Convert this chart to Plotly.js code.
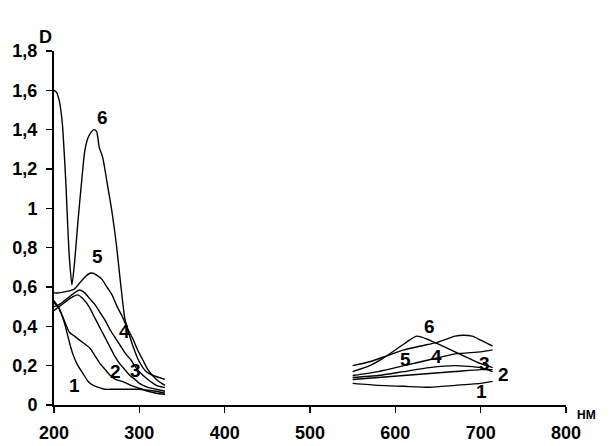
<!DOCTYPE html>
<html>
<head>
<meta charset="utf-8">
<script src="https://cdn.plot.ly/plotly-3.0.1.min.js"></script>
<style>html,body{margin:0;padding:0;background:#fff;}#chart{width:614px;height:446px;}</style>
</head>
<body>
<div id="chart"></div>
<script>
// UV region (nm) and optical density D
const uv1X = [200,206,212,218,222,228,234,240,246,252,260,270,280,290,300,310,320,330];
const uv1Y = [0.52,0.49,0.42,0.32,0.26,0.20,0.16,0.12,0.10,0.09,0.08,0.08,0.08,0.08,0.08,0.075,0.07,0.06];
const uv2X = [200,206,212,218,224,230,236,242,248,254,260,266,272,280,290,300,310,320,330];
const uv2Y = [0.53,0.49,0.43,0.37,0.35,0.33,0.31,0.29,0.25,0.21,0.18,0.15,0.13,0.12,0.10,0.085,0.07,0.06,0.055];
const uv3X = [200,206,212,218,224,228,234,241,247,253,259,265,271,277,283,289,295,300,310,320,330];
const uv3Y = [0.48,0.50,0.52,0.54,0.555,0.56,0.54,0.50,0.45,0.40,0.35,0.30,0.25,0.21,0.18,0.15,0.13,0.11,0.09,0.08,0.07];
const uv4X = [200,206,212,218,224,230,236,242,248,254,260,266,272,278,284,290,296,302,310,320,330];
const uv4Y = [0.50,0.51,0.53,0.55,0.57,0.585,0.57,0.54,0.51,0.47,0.43,0.38,0.34,0.30,0.26,0.23,0.19,0.16,0.13,0.10,0.088];
const uv5X = [200,206,212,218,224,230,236,242,246,250,256,262,268,274,280,286,292,298,304,310,320,330];
const uv5Y = [0.57,0.57,0.575,0.58,0.59,0.62,0.65,0.67,0.67,0.66,0.64,0.60,0.56,0.50,0.45,0.39,0.34,0.28,0.23,0.18,0.13,0.10];
const uv6X = [200,203,206,208,210,212,214,216,218,221,224,228,232,236,240,244,247,250,253,257,263,268,273,278,283,288,295,300,308,316,323,330];
const uv6Y = [1.60,1.59,1.55,1.50,1.42,1.28,1.12,0.92,0.75,0.61,0.72,0.93,1.12,1.29,1.36,1.39,1.40,1.39,1.31,1.26,1.11,0.98,0.82,0.62,0.44,0.36,0.27,0.22,0.17,0.15,0.14,0.13];

// Visible region
const vis1X = [550,580,610,640,670,700,714];
const vis1Y = [0.11,0.10,0.095,0.09,0.10,0.11,0.12];
const vis2X = [550,580,610,640,670,700,714];
const vis2Y = [0.13,0.14,0.15,0.16,0.17,0.18,0.18];
const vis3X = [550,580,610,640,670,700,714];
const vis3Y = [0.14,0.15,0.17,0.19,0.20,0.19,0.17];
const vis4X = [550,580,610,640,670,700,714];
const vis4Y = [0.15,0.17,0.20,0.23,0.26,0.27,0.28];
const vis5X = [550,570,590,610,625,640,660,680,700,714];
const vis5Y = [0.17,0.20,0.25,0.31,0.35,0.33,0.29,0.25,0.21,0.19];
const vis6X = [550,570,590,610,630,650,670,680,690,700,714];
const vis6Y = [0.20,0.22,0.25,0.28,0.30,0.32,0.35,0.355,0.35,0.33,0.30];

// Curve number labels
const labelText = ["1","2","3","4","5","6","1","2","3","4","5","6"];
const labelX = [224,272,296,283,251,257, 701,727,704,648,612,640];
const labelY = [0.10,0.17,0.173,0.373,0.754,1.46, 0.068,0.153,0.21,0.245,0.23,0.40];

const xTicks = [200,300,400,500,600,700,800];
const yTicks = [0,0.2,0.4,0.6,0.8,1,1.2,1.4,1.6,1.8];

const series = [[uv1X,uv1Y],[uv2X,uv2Y],[uv3X,uv3Y],[uv4X,uv4Y],[uv5X,uv5Y],[uv6X,uv6Y],
                [vis1X,vis1Y],[vis2X,vis2Y],[vis3X,vis3Y],[vis4X,vis4Y],[vis5X,vis5Y],[vis6X,vis6Y]];
const traces = series.map(s => ({
  x: s[0], y: s[1], type: 'scatter', mode: 'lines',
  line: {color: '#000', width: 1.4, shape: 'spline', smoothing: 0.6},
  hoverinfo: 'skip', showlegend: false
}));

const fam = 'Liberation Sans, Arial, sans-serif';
const tickFont = {family: fam, size: 18, color: '#000', weight: 'bold'};
const labFont = {family: fam, size: 19, color: '#000', weight: 'bold'};
const annotations = labelText.map((t, i) => ({
  x: labelX[i], y: labelY[i], xref: 'x', yref: 'y', text: '<b>' + t + '</b>',
  showarrow: false, font: labFont
}));

const layout = {
  width: 614, height: 446,
  margin: {l: 54, r: 48, t: 51, b: 41},
  paper_bgcolor: '#fff', plot_bgcolor: '#fff',
  separators: ', ',
  showlegend: false,
  xaxis: {
    range: [200, 800], tickvals: xTicks, ticktext: xTicks.map(String),
    showgrid: false, zeroline: false, showline: true, linecolor: '#000', linewidth: 2,
    ticks: 'outside', ticklen: 6, tickwidth: 1.5, tickcolor: '#000', ticklabelstandoff: 4,
    tickfont: tickFont, fixedrange: true
  },
  yaxis: {
    range: [0, 1.8], tickvals: yTicks,
    showgrid: false, zeroline: false, showline: true, linecolor: '#000', linewidth: 2,
    ticks: 'outside', ticklen: 6, tickwidth: 1.5, tickcolor: '#000', ticklabelstandoff: 5,
    tickfont: tickFont, fixedrange: true
  },
  annotations: annotations
};
// axis-unit label annotations placed in paper coordinates
const pw = 614 - 54 - 48, ph = 446 - 51 - 41;
annotations.push({text: '<b>D</b>', xref: 'paper', yref: 'paper',
  x: (37 - 54) / pw, y: (446 - 41 - 25) / ph, showarrow: false,
  font: {family: fam, size: 18, color: '#000'}});
annotations.push({text: '<b>НМ</b>', xref: 'paper', yref: 'paper',
  x: (598 - 54) / pw, y: (446 - 41 - 424) / ph, showarrow: false,
  font: {family: fam, size: 12, color: '#000'}});

Plotly.newPlot('chart', traces, layout, {staticPlot: true});
</script>
</body>
</html>
